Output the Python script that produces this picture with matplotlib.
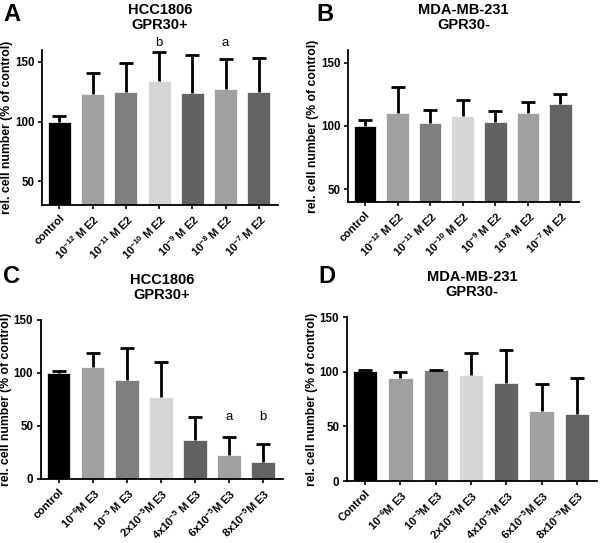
import numpy as np
import matplotlib
matplotlib.use("Agg")
import matplotlib.pyplot as plt

plt.rcParams['font.family'] = ['Liberation Sans', 'DejaVu Sans']
plt.rcParams['font.weight'] = 'bold'
plt.rcParams['mathtext.fontset'] = 'custom'
plt.rcParams['mathtext.rm'] = 'Liberation Sans'
plt.rcParams['mathtext.it'] = 'Liberation Sans'
plt.rcParams['mathtext.default'] = 'rm'

# x labels
labels_e2 = ["control", "10$^{-12}$ M E2", "10$^{-11}$ M E2", "10$^{-10}$ M E2",
             "10$^{-9}$ M E2", "10$^{-8}$ M E2", "10$^{-7}$ M E2"]
labels_c = ["control", "10$^{-6}$M E3", "10$^{-5}$ M E3", "2x10$^{-5}$M E3",
            "4x10$^{-5}$ M E3", "6x10$^{-5}$M E3", "8x10$^{-5}$M E3"]
labels_d = ["Control", "10$^{-6}$M E3", "10$^{-5}$M E3", "2x10$^{-5}$M E3",
            "4x10$^{-5}$M E3", "6x10$^{-5}$M E3", "8x10$^{-5}$M E3"]

# means and (upper) error
mean_a = [100, 123, 124.5, 134, 124, 127, 125]
err_a = [5, 18, 24.5, 24, 31.5, 25, 28]
mean_b = [100, 110.5, 102, 107.5, 103, 110.5, 117.5]
err_b = [4.5, 20, 11, 13, 9, 8.5, 7.5]
mean_c = [100, 105.5, 93, 77.5, 37, 22.5, 16]
err_c = [2, 13.5, 30.5, 33, 21, 17.5, 17]
mean_d = [101, 94, 101.5, 97.5, 89.5, 64, 61.5]
err_d = [1, 6, 0.5, 20, 30.5, 25, 33]

bar_colors = ['#000000', '#a0a0a0', '#7f7f7f', '#d6d6d6', '#626262', '#a0a0a0', '#636363']

fig = plt.figure(figsize=(6, 5.43), dpi=100)

panels = [
    # letter, title, labels, means, errs, ylim, ticks, rect, marks
    ("A", "HCC1806\nGPR30+", labels_e2, mean_a, err_a, (30, 160), [50, 100, 150],
     [0.070, 0.6225, 0.393, 0.2855], {3: ("b", 165.5), 5: ("a", 165.5)}),
    ("B", "MDA-MB-231\nGPR30-", labels_e2, mean_b, err_b, (40, 160), [50, 100, 150],
     [0.580, 0.628, 0.385, 0.280], {}),
    ("C", "HCC1806\nGPR30+", labels_c, mean_c, err_c, (0, 150), [0, 50, 100, 150],
     [0.068, 0.118, 0.403, 0.2927], {5: ("a", 58), 6: ("b", 58)}),
    ("D", "MDA-MB-231\nGPR30-", labels_d, mean_d, err_d, (0, 150), [0, 50, 100, 150],
     [0.578, 0.114, 0.417, 0.302], {}),
]

letter_pos = {"A": (0.005, 0.995), "B": (0.528, 0.995), "C": (0.005, 0.512), "D": (0.530, 0.512)}

for letter, title, labels, means, errs, ylim, ticks, rect, marks in panels:
    ax = fig.add_axes(rect)
    x = np.arange(len(means))
    ax.bar(x, means, width=0.69, color=bar_colors, edgecolor='white', linewidth=0.5, zorder=2)
    eb = ax.errorbar(x, means, yerr=[np.zeros(len(errs)), errs], fmt='none',
                     ecolor='black', elinewidth=2, capsize=5, capthick=2, zorder=3)
    eb[1][0].set_visible(False)
    ax.set_xlim(-0.52, 6.57)
    ax.set_ylim(*ylim)
    ax.set_yticks(ticks)
    ax.set_xticks(x)
    ax.set_xticklabels(labels, rotation=45, ha='right', rotation_mode='anchor',
                       fontsize=8, fontweight='bold')
    ax.tick_params(axis='y', labelsize=8.3, width=1.2, length=3, pad=2.5)
    ax.tick_params(axis='x', width=1.2, length=3, pad=2.5)
    for lab in ax.get_yticklabels():
        lab.set_fontweight('bold')
    ax.spines['top'].set_visible(False)
    ax.spines['right'].set_visible(False)
    ax.spines['left'].set_linewidth(1.3)
    ax.spines['bottom'].set_linewidth(1.3)
    ax.set_ylabel("rel. cell number (% of control)", fontsize=8.8, fontweight='bold', labelpad=1.5)
    ax.set_title(title, fontsize=10.5, fontweight='bold', pad=15, linespacing=1.1)
    for i, (txt, yv) in marks.items():
        ax.text(i, yv, txt, ha='center', va='center', fontsize=9.5,
                fontweight='normal', clip_on=False)
    fig.text(letter_pos[letter][0], letter_pos[letter][1], letter, fontsize=17,
             fontweight='bold', va='top', ha='left')

fig.savefig("out.png", dpi=100)
